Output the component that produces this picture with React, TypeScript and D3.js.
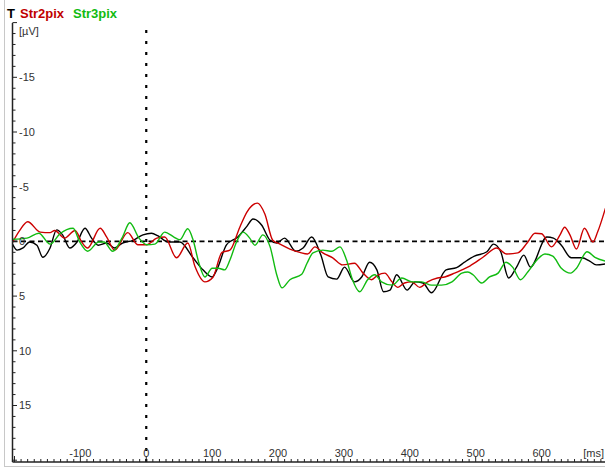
import { useRef, useEffect } from 'react';
import * as d3 from 'd3';

// ERP traces, time in ms, amplitude in µV (negative up)
const blackTimes: number[] = [-203, -196, -187, -177, -166, -157, -146, -136, -127, -116, -105, -93, -83, -73, -60, -48, -36, -20, -5, 8, 18, 33, 51, 71, 86, 100, 107, 122, 139, 153, 162, 175, 188, 198, 210, 227, 238, 251, 265, 276, 289, 301, 316, 327, 339, 350, 360, 370, 380, 396, 408, 420, 433, 455, 471, 483, 498, 517, 527, 538, 550, 562, 573, 583, 608, 618, 630, 645, 661, 673, 683, 697];
const blackValues: number[] = [0.25, 0.8, 0.6, 0.05, 0.35, 1.45, 0.6, -1.05, -0.6, 0.6, 0.05, -1.2, -0.3, 0.35, 0.15, 0.6, 0.15, -0.1, -0.6, -0.75, -0.5, 0.05, 0.05, 1.5, 2.6, 3.25, 2.6, 0.3, -0.4, -1.4, -2.05, -1.5, -0.1, 0.15, -0.3, 0.9, 0.6, -0.4, 1.25, 3.25, 3.45, 2.35, 3.7, 3.25, 1.9, 2.6, 4.6, 4.45, 3.05, 4.45, 3.7, 3.8, 4.7, 2.6, 2.4, 1.9, 1.35, 0.95, 0.25, 0.95, 3.35, 2.35, 1.25, 2.35, -0.4, -0.3, 0.35, 1.5, 1.5, 1.8, 2.15, 2.05];

const redTimes: number[] = [-203, -192, -180, -161, -146, -139, -124, -108, -98, -89, -70, -60, -48, -28, -13, 1, 16, 28, 46, 63, 74, 89, 101, 115, 127, 142, 153, 169, 180, 192, 203, 218, 233, 245, 256, 268, 283, 298, 316, 329, 342, 351, 362, 373, 382, 392, 403, 415, 427, 442, 453, 468, 479, 491, 511, 532, 547, 564, 578, 590, 600, 615, 628, 635, 643, 653, 665, 678, 685, 697];
const redValues: number[] = [0.1, -1.0, -1.8, -0.85, -0.8, -1.0, -0.3, -1.0, 0.05, 0.6, -1.2, -0.4, 0.8, -0.8, 0.3, 0.3, -0.3, -0.4, 1.5, 0.15, 2.3, 3.7, 3.3, 1.0, 0.8, -1.3, -2.7, -3.5, -2.5, -0.1, 0.25, 0.7, 1.0, 1.15, 0.5, 1.05, 1.5, 2.15, 2.0, 2.9, 3.5, 3.1, 2.9, 3.7, 4.2, 3.8, 3.7, 4.2, 3.7, 3.35, 3.25, 2.9, 2.6, 2.25, 1.45, 0.6, 1.15, 1.05, 0.15, -0.75, -0.7, 0.5, -0.6, -1.3, -0.6, 0.7, -1.2, 0.05, -0.85, -3.05];

const greenTimes: number[] = [-203, -181, -163, -146, -131, -111, -101, -89, -72, -64, -51, -36, -25, -11, 1, 13, 28, 42, 51, 63, 71, 80, 89, 100, 109, 119, 127, 137, 147, 157, 165, 177, 188, 198, 206, 218, 236, 244, 253, 268, 282, 294, 304, 313, 324, 336, 347, 357, 373, 388, 403, 418, 433, 448, 464, 479, 488, 496, 509, 521, 534, 546, 556, 568, 579, 593, 605, 617, 630, 644, 653, 669, 681, 697];
const greenValues: number[] = [-0.2, -0.3, -0.75, 0.25, -0.7, -1.2, 0.05, 0.9, 0.05, 0.05, 0.9, -0.4, -1.7, -0.3, 0.3, 0.25, -0.85, -0.4, -0.15, -1.15, -0.15, 2.0, 3.25, 2.45, 2.45, 2.6, 1.7, 0.05, -0.85, -0.3, 0.35, -0.6, 0.5, 3.05, 4.25, 3.5, 3.0, 2.0, 1.05, 0.8, 0.9, 0.5, 1.7, 3.5, 4.6, 3.5, 3.05, 3.7, 4.0, 3.35, 3.7, 3.7, 4.0, 4.0, 3.7, 2.9, 2.8, 3.05, 3.8, 3.25, 2.9, 1.9, 2.35, 3.5, 2.8, 1.7, 1.15, 1.35, 2.45, 2.9, 2.45, 0.95, 1.45, 1.8];

const xTickLabels: number[] = [-100, 0, 100, 200, 300, 400, 500, 600];
const yTickLabels: number[] = [-15, -10, -5, 0, 5, 10, 15];

export default function App() {
  const chartRef = useRef<SVGSVGElement | null>(null);

  useEffect(() => {
    if (!chartRef.current) return;
    document.body.style.margin = '0';

    const width = 605;
    const height = 469;
    const font = 'Arial, "Liberation Sans", sans-serif';

    const svg = d3.select(chartRef.current)
      .attr('width', width)
      .attr('height', height);
    svg.selectAll('*').remove();

    const x = d3.scaleLinear().domain([-203, 697]).range([12.5, 605.5]);
    const y = d3.scaleLinear().domain([-20, 20]).range([22.6, 460.2]);
    const left = 12.5;
    const bottom = 462;

    // outer frame
    svg.append('rect')
      .attr('x', 4.5).attr('y', -2)
      .attr('width', 620).attr('height', 468.5)
      .attr('fill', 'white')
      .attr('stroke', '#c8c8c8');

    svg.append('defs').append('clipPath').attr('id', 'plot')
      .append('rect')
      .attr('x', left).attr('y', 22)
      .attr('width', width - left).attr('height', bottom - 22);

    // title
    const title = svg.append('text')
      .attr('x', 7).attr('y', 18)
      .attr('font-family', font)
      .attr('font-size', 13)
      .attr('font-weight', 'bold');
    title.append('tspan').attr('fill', '#000').text('T');
    title.append('tspan').attr('x', 20).attr('fill', '#c00000').text('Str2pix');
    title.append('tspan').attr('x', 73).attr('fill', '#11bb11').text('Str3pix');

    // zero lines
    svg.append('line')
      .attr('x1', left).attr('x2', width)
      .attr('y1', y(0)).attr('y2', y(0))
      .attr('stroke', '#000').attr('stroke-width', 1.6)
      .attr('stroke-dasharray', '5 3.5');

    svg.append('line')
      .attr('x1', x(0)).attr('x2', x(0))
      .attr('y1', 30).attr('y2', bottom)
      .attr('stroke', '#000').attr('stroke-width', 2.2)
      .attr('stroke-dasharray', '3 8');

    // traces
    const series = [
      { t: blackTimes, v: blackValues, color: '#000000' },
      { t: redTimes, v: redValues, color: '#cc0000' },
      { t: greenTimes, v: greenValues, color: '#11bb11' },
    ];
    const line = d3.line<[number, number]>()
      .x((d) => x(d[0]))
      .y((d) => y(d[1]))
      .curve(d3.curveMonotoneX);

    const traces = svg.append('g').attr('clip-path', 'url(#plot)');
    series.forEach((s) => {
      const pts: [number, number][] = s.t.map((t, i) => [t, s.v[i]]);
      traces.append('path')
        .attr('d', line(pts) || '')
        .attr('fill', 'none')
        .attr('stroke', s.color)
        .attr('stroke-width', 1.4);
    });

    // axes
    const axis = svg.append('g').attr('stroke', '#222');
    axis.append('line')
      .attr('x1', left).attr('x2', left)
      .attr('y1', 23).attr('y2', bottom)
      .attr('stroke-width', 1.5);
    axis.append('line')
      .attr('x1', left).attr('x2', width)
      .attr('y1', bottom).attr('y2', bottom)
      .attr('stroke-width', 1.5);

    axis.selectAll('.ytick')
      .data(d3.range(-20, 21))
      .enter()
      .append('line')
      .attr('x1', left)
      .attr('x2', (d) => left + (d % 5 === 0 ? 4.5 : 3))
      .attr('y1', (d) => y(d))
      .attr('y2', (d) => y(d))
      .attr('stroke-width', 1);

    axis.selectAll('.xtick')
      .data(d3.range(-200, 700, 10))
      .enter()
      .append('line')
      .attr('x1', (d) => x(d))
      .attr('x2', (d) => x(d))
      .attr('y1', bottom)
      .attr('y2', (d) => bottom - (d % 100 === 0 ? 6 : 3))
      .attr('stroke-width', 1);

    svg.selectAll('.ylabel')
      .data(yTickLabels)
      .enter()
      .append('text')
      .attr('x', 19)
      .attr('y', (d) => y(d))
      .attr('dy', '0.35em')
      .attr('font-family', font)
      .attr('font-size', 11)
      .attr('fill', '#333')
      .text((d) => String(d));

    svg.append('text')
      .attr('x', 19).attr('y', 31).attr('dy', '0.35em')
      .attr('font-family', font).attr('font-size', 11).attr('fill', '#333')
      .text('[µV]');

    svg.selectAll('.xlabel')
      .data(xTickLabels)
      .enter()
      .append('text')
      .attr('x', (d) => x(d))
      .attr('y', 457)
      .attr('text-anchor', 'middle')
      .attr('font-family', font)
      .attr('font-size', 11)
      .attr('fill', '#333')
      .text((d) => String(d));

    svg.append('text')
      .attr('x', 604).attr('y', 457)
      .attr('text-anchor', 'end')
      .attr('font-family', font).attr('font-size', 11).attr('fill', '#333')
      .text('[ms]');
  }, []);

  return (
    <div>
      <svg ref={chartRef} style={{ display: 'block' }}></svg>
    </div>
  );
}
